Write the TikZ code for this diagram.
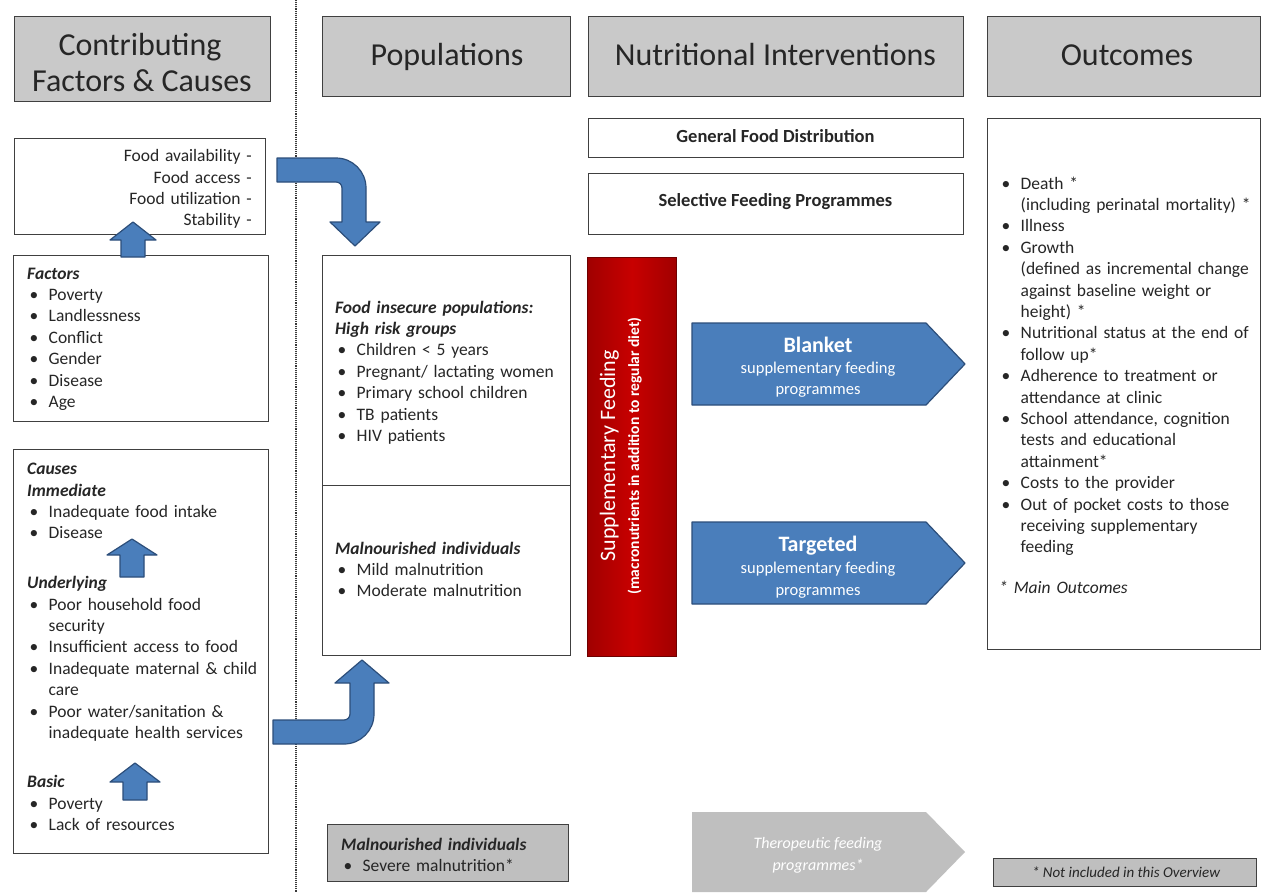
\documentclass[tikz,border=0pt]{standalone}
\usepackage{fontspec}
\setmainfont{Carlito}
\definecolor{hdrgray}{HTML}{C9C9C9}
\definecolor{bordergray}{HTML}{404040}
\definecolor{arrowblue}{HTML}{4A7EBB}
\definecolor{arrowborder}{HTML}{2C4E7A}
\definecolor{sfred}{HTML}{C80000}
\definecolor{sfreddark}{HTML}{A00000}
\definecolor{sfredborder}{HTML}{6E0000}
\definecolor{lgray}{HTML}{BFBFBF}
\definecolor{txtgray}{HTML}{262626}
\newcommand\bodyfont{\fontsize{17.5}{21.4}\selectfont}
\newlength\bulind \setlength\bulind{21.5pt}
\newcommand\bul[1]{\par\noindent\hangindent=\bulind\hangafter=1\strut\makebox[\bulind][l]{\hspace{2.5pt}\textbullet}#1}
\newcommand\hd[1]{\par\noindent\strut\textit{\bfseries #1}}
\begin{document}
\begin{tikzpicture}[x=1pt,y=-1pt,
  hdr/.style={draw=bordergray, fill=hdrgray, line width=1.3pt, inner sep=0pt, anchor=north west},
  box/.style={draw=bordergray, fill=white, line width=1.3pt, inner sep=0pt, anchor=north west},
  graybox/.style={draw=bordergray, fill=lgray, line width=1.3pt, inner sep=0pt, anchor=north west},
  htxt/.style={anchor=base, inner sep=0pt, font=\fontsize{32}{38}\selectfont, text=txtgray},
  txt/.style={inner sep=0pt, anchor=north west, align=left, font=\bodyfont, text width=#1, text=txtgray},
  blockarrow/.style={fill=arrowblue, draw=arrowborder, line width=1.2pt, line join=round},
  atitle/.style={anchor=base, inner sep=0pt, text=white, font=\fontsize{22}{24}\selectfont\bfseries},
  asub/.style={anchor=base, inner sep=0pt, text=white, font=\fontsize{16.5}{20}\selectfont},
  ibox/.style={anchor=center, inner sep=0pt, text=txtgray, font=\fontsize{18.5}{22}\selectfont\bfseries}
]
\useasboundingbox (0,0) rectangle (1263,892);
\fill[white] (0,0) rectangle (1263,892);

% dotted separator
\coordinate (dtop) at (296,0);
\coordinate (dbot) at (296,892);
\draw[densely dotted, line width=1.1pt, color=gray!45!black] (dtop) -- (dbot);

% headers
\node[hdr, minimum width=256pt, minimum height=85pt] (hcf) at (14,16) {};
\node[htxt] (hcf1) at (140,55) {Contributing};
\node[htxt] (hcf2) at (142,91) {Factors \& Causes};
\node[hdr, minimum width=248pt, minimum height=80pt] (hpop) at (322,16) {};
\node[htxt] (hpopt) at (447,65) {Populations};
\node[hdr, minimum width=375pt, minimum height=80pt] (hint) at (588,16) {};
\node[htxt] (hintt) at (775.5,65) {Nutritional Interventions};
\node[hdr, minimum width=273pt, minimum height=80pt] (hout) at (987,16) {};
\node[htxt] (houtt) at (1127,65) {Outcomes};

% food security box
\node[box, minimum width=251pt, minimum height=96pt] (food) at (14,138) {};
\node[inner sep=0pt, anchor=north east, align=right, font=\bodyfont, text width=220pt, text=txtgray] (foodt) at (252,146.5)
  {\strut Food availability -\\Food access -\\Food utilization -\\Stability -};

% factors box
\node[box, minimum width=255pt, minimum height=166pt] (fac) at (13,255) {};
\node[txt=235pt] (fact) at (27,257.5)
  {\hd{Factors}\bul{Poverty}\bul{Landlessness}\bul{Conflict}\bul{Gender}\bul{Disease}\bul{Age}};

% causes box
\node[box, minimum width=255pt, minimum height=404pt] (cau) at (13,449) {};
\node[txt=240pt] (caut) at (27,453)
  {\hd{Causes}\hd{Immediate}\bul{Inadequate food intake}\bul{Disease}\par\vspace{28.5pt}%
   \hd{Underlying}\bul{Poor household food\newline security}\bul{Insufficient access to food}%
   \bul{Inadequate maternal \& child\newline care}\bul{Poor water/sanitation \&\newline inadequate health services}%
   \par\vspace{28pt}\hd{Basic}\bul{Poverty}\bul{Lack of resources}};

% populations boxes
\node[box, minimum width=248pt, minimum height=230pt] (pop1) at (322,255) {};
\node[box, minimum width=248pt, minimum height=170pt] (pop2) at (322,485) {};
\node[txt=232pt] (pop1t) at (335,291.5)
  {\hd{Food insecure populations:}\hd{High risk groups}\bul{Children < 5 years}\bul{Pregnant/ lactating women}%
   \bul{Primary school children}\bul{TB patients}\bul{HIV patients}};
\node[txt=232pt] (pop2t) at (335,532.5)
  {\hd{Malnourished individuals}\bul{Mild malnutrition}\bul{Moderate malnutrition}};

% supplementary feeding red bar
\node[draw=sfredborder, left color=sfreddark, right color=sfreddark, middle color=sfred, line width=1.3pt, minimum width=89pt, minimum height=399pt, anchor=north west, inner sep=0pt] (sf) at (587,257) {};
\node[rotate=90, anchor=base, inner sep=0pt, text=white, font=\fontsize{22}{24}\selectfont] (sf1) at (615,456) {Supplementary Feeding};
\node[rotate=90, anchor=base, inner sep=0pt, text=white, font=\fontsize{15.5}{18}\selectfont\bfseries] (sf2) at (639,456) {(macronutrients in addition to regular diet)};

% intervention boxes
\node[box, minimum width=375pt, minimum height=39pt] (gfd) at (588,118) {};
\node[ibox] (gfdt) at (775.5,136) {General Food Distribution};
\node[box, minimum width=375pt, minimum height=61pt] (sfp) at (588,173) {};
\node[ibox] (sfpt) at (775.5,202) {Selective Feeding Programmes};

% pentagon arrows
\draw[blockarrow] (692,323) -- (926,323) -- (965,364) -- (926,405) -- (692,405) -- cycle;
\node[atitle] (bl1) at (818,352) {Blanket};
\node[asub] (bl2) at (818,373) {supplementary feeding};
\node[asub] (bl3) at (818,394) {programmes};

\draw[blockarrow] (692,522) -- (926,522) -- (965,563) -- (926,604) -- (692,604) -- cycle;
\node[atitle] (tg1) at (818,551) {Targeted};
\node[asub] (tg2) at (818,573) {supplementary feeding};
\node[asub] (tg3) at (818,595) {programmes};

\fill[lgray] (692,812) -- (926,812) -- (965,852) -- (926,892) -- (692,892) -- cycle;
\node[anchor=base, inner sep=0pt, text=white, font=\fontsize{16}{20}\selectfont\itshape] (th1) at (818,848) {Theropeutic feeding};
\node[anchor=base, inner sep=0pt, text=white, font=\fontsize{16}{20}\selectfont\itshape] (th2) at (818,870) {programmes*};

% outcomes box
\node[box, minimum width=273pt, minimum height=531pt] (outc) at (987,118) {};
\node[txt=258pt] (outt) at (999,167.5)
  {\bul{Death *\newline (including perinatal mortality) *}\bul{Illness}%
   \bul{Growth\newline (defined as incremental change\newline against baseline weight or\newline height) *}%
   \bul{Nutritional status at the end of\newline follow up*}\bul{Adherence to treatment or\newline attendance at clinic}%
   \bul{School attendance, cognition\newline tests and educational\newline attainment*}\bul{Costs to the provider}%
   \bul{Out of pocket costs to those\newline receiving supplementary\newline feeding}\par\vspace{19.6pt}\noindent\strut\textit{* Main Outcomes}};

% severe malnutrition box
\node[graybox, minimum width=241pt, minimum height=57pt] (sev) at (327,824) {};
\node[txt=225pt] (sevt) at (341,828.5) {\hd{Malnourished individuals}\bul{Severe malnutrition*}};

% not included box
\node[graybox, minimum width=263pt, minimum height=28pt] (noinc) at (993,858) {};
\node[anchor=center, inner sep=0pt, text=txtgray, font=\fontsize{15}{18}\selectfont\itshape] (noinct) at (1126,872) {* Not included in this Overview};

% small up arrows
\draw[blockarrow] (121,257) -- (121,240) -- (110,240) -- (133,222) -- (156,240) -- (145,240) -- (145,257) -- cycle;
\draw[blockarrow] (120,577) -- (120,555) -- (107,555) -- (132,539) -- (157,555) -- (144,555) -- (144,577) -- cycle;
\draw[blockarrow] (123,800) -- (123,782) -- (110,782) -- (135,763) -- (160,782) -- (147,782) -- (147,800) -- cycle;

% curved arrows
\draw[blockarrow] (277,158) -- (336,158) .. controls (352.6,158) and (366,171.4) .. (366,188) -- (366,222) -- (380,222) -- (355,246) -- (330,222) -- (342,222) -- (342,188) .. controls (342,184.7) and (339.3,182) .. (336,182) -- (277,182) -- cycle;
\draw[blockarrow] (273,720) -- (344,720) .. controls (347.3,720) and (350,717.3) .. (350,714) -- (350,683) -- (335,683) -- (362,660) -- (389,683) -- (374,683) -- (374,714) .. controls (374,730.6) and (360.6,744) .. (344,744) -- (273,744) -- cycle;
\end{tikzpicture}
\end{document}
